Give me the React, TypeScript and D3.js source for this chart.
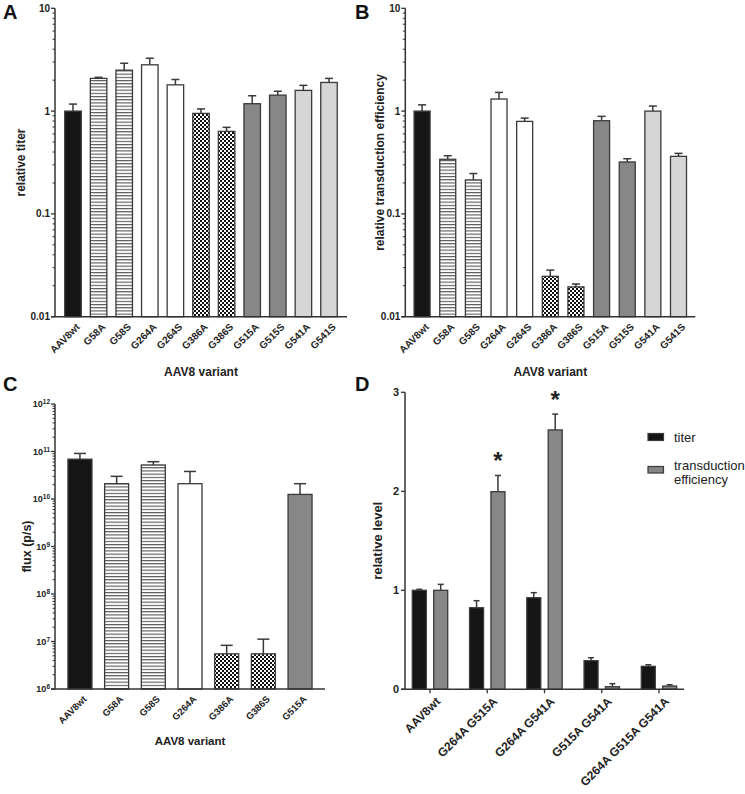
import React from "react";
import * as d3 from "d3";

// ---------- DATA ----------
const variantsAB = ["AAV8wt","G58A","G58S","G264A","G264S","G386A","G386S","G515A","G515S","G541A","G541S"];
const titerValues = [1.0, 2.08, 2.5, 2.82, 1.8, 0.95, 0.635, 1.18, 1.43, 1.59, 1.9];
const titerErrTop = [1.17, 2.13, 2.92, 3.27, 2.03, 1.05, 0.695, 1.41, 1.56, 1.78, 2.08];
const transValues = [1.0, 0.34, 0.214, 1.31, 0.794, 0.0247, 0.0195, 0.806, 0.32, 1.0, 0.363];
const transErrTop = [1.15, 0.368, 0.247, 1.52, 0.855, 0.0284, 0.0208, 0.889, 0.344, 1.12, 0.388];
const fillsAB = ["black","stripe","stripe","white","white","check","check","gray","gray","light","light"];

const variantsC = ["AAV8wt","G58A","G58S","G264A","G386A","G386S","G515A"];
const fluxValues = [6.9e10, 2.1e10, 5.2e10, 2.1e10, 5.5e6, 5.5e6, 1.25e10];
const fluxErrTop = [9.1e10, 3.0e10, 6.1e10, 3.8e10, 8.3e6, 1.12e7, 2.1e10];
const fillsC = ["black","stripe","stripe","white","check","check","gray"];

const groupsD = ["AAV8wt","G264A G515A","G264A G541A","G515A G541A","G264A G515A G541A"];
const seriesD = ["titer","transduction efficiency"];
const dTiter = [1.0, 0.824, 0.925, 0.289, 0.232];
const dTiterErr = [1.01, 0.895, 0.976, 0.319, 0.248];
const dTrans = [1.0, 1.996, 2.62, 0.026, 0.033];
const dTransErr = [1.06, 2.16, 2.78, 0.057, 0.046];
const starGroups = ["G264A G515A","G264A G541A"];

const logTicksAB = [0.01, 0.1, 1, 10];
const logTickLabelsAB = ["0.01","0.1","1","10"];
const expTicksC = [6,7,8,9,10,11,12];
const linTicksD = [0,1,2,3];

// ---------- STYLE ----------
const FONT = "'Liberation Sans', Arial, sans-serif";
const AX = "#333";
const STROKE = "#3a3a3a";
const fillMap: Record<string,string> = {
  black: "#151515",
  stripe: "url(#stripe)",
  white: "#ffffff",
  check: "url(#check)",
  gray: "#878787",
  light: "#d6d6d6",
};

function minorLogTicks(lo: number, hi: number) {
  const out: number[] = [];
  for (let e = Math.round(Math.log10(lo)); e < Math.round(Math.log10(hi)); e++) {
    for (let k = 2; k <= 9; k++) out.push(k * Math.pow(10, e));
  }
  return out;
}

type LogPanelProps = {
  cats: string[]; vals: number[]; errs: number[]; fills: string[];
  x0: number; x1: number; pad: number; barW: number; capW: number;
  y: d3.ScaleLogarithmic<number, number>;
  majors: number[]; majorLabel: (v: number, i: number) => React.ReactNode;
  ylabel: string; ylabelX: number; ylabelFont: number; xlabelY: number; xlabelFont: number;
  tickFont: number; catFont: number;
};

function LogPanel(p: LogPanelProps) {
  const x = d3.scalePoint<string>().domain(p.cats).range([p.x0, p.x1]).padding(p.pad);
  const [d0, d1] = p.y.domain();
  const yBot = p.y(d0), yTop = p.y(d1);
  return (
    <g>
      {p.cats.map((c, i) => {
        const cx = x(c)!;
        const yt = p.y(p.vals[i]);
        const ye = p.y(p.errs[i]);
        return (
          <g key={c}>
            <line x1={cx} x2={cx} y1={yt} y2={ye} stroke={STROKE} strokeWidth={1.5} />
            <line x1={cx - p.capW / 2} x2={cx + p.capW / 2} y1={ye} y2={ye} stroke={STROKE} strokeWidth={1.5} />
            <rect x={cx - p.barW / 2} y={yt} width={p.barW} height={yBot - yt}
              fill={fillMap[p.fills[i]]} stroke={STROKE} strokeWidth={1.3} />
          </g>
        );
      })}
      {/* axes */}
      <line x1={p.x0} x2={p.x0} y1={yTop} y2={yBot} stroke={AX} strokeWidth={1.5} />
      <line x1={p.x0 - 4} x2={p.x1} y1={yBot} y2={yBot} stroke={AX} strokeWidth={1.5} />
      {minorLogTicks(d0, d1).map((v) => (
        <line key={"m" + v} x1={p.x0 - 2.5} x2={p.x0} y1={p.y(v)} y2={p.y(v)} stroke={AX} strokeWidth={1} />
      ))}
      {p.majors.map((v, i) => (
        <g key={"M" + v}>
          <line x1={p.x0 - 4} x2={p.x0} y1={p.y(v)} y2={p.y(v)} stroke={AX} strokeWidth={1.3} />
          <text x={p.x0 - 5} y={p.y(v)} dy="0.35em" textAnchor="end" fontSize={p.tickFont}
            fontWeight="bold" fontFamily={FONT} fill="#222">{p.majorLabel(v, i)}</text>
        </g>
      ))}
      {p.cats.map((c) => {
        const cx = x(c)! + 2.5;
        const cy = yBot + 6;
        return (
          <text key={"l" + c} transform={`translate(${cx},${cy}) rotate(-45)`} textAnchor="end"
            dy="0.7em" fontSize={p.catFont} fontWeight="bold" fontFamily={FONT} fill="#222">{c}</text>
        );
      })}
      <text transform={`translate(${p.ylabelX},${(yTop + yBot) / 2}) rotate(-90)`} textAnchor="middle"
        fontSize={p.ylabelFont} fontWeight="bold" fontFamily={FONT} fill="#222">{p.ylabel}</text>
      <text x={(p.x0 + p.x1) / 2} y={p.xlabelY} textAnchor="middle" fontSize={p.xlabelFont} fontWeight="bold"
        fontFamily={FONT} fill="#222">AAV8 variant</text>
    </g>
  );
}

function PanelD() {
  const x0 = 405, x1 = 684;
  const y = d3.scaleLinear().domain([0, 3]).range([689.3, 392.3]);
  const x = d3.scalePoint<string>().domain(groupsD).range([x0, x1]).padding(0.437);
  const sub = d3.scalePoint<string>().domain(seriesD).range([-10.7, 10.7]);
  const barW = 14, capW = 6;
  const yBot = y(0);
  const series = [
    { name: seriesD[0], vals: dTiter, errs: dTiterErr, fill: "#151515" },
    { name: seriesD[1], vals: dTrans, errs: dTransErr, fill: "#878787" },
  ];
  return (
    <g>
      {series.map((s) =>
        groupsD.map((g, i) => {
          const cx = x(g)! + sub(s.name)!;
          const yt = y(s.vals[i]);
          const ye = y(s.errs[i]);
          return (
            <g key={s.name + g}>
              <line x1={cx} x2={cx} y1={yt} y2={ye} stroke={STROKE} strokeWidth={1.5} />
              <line x1={cx - capW / 2} x2={cx + capW / 2} y1={ye} y2={ye} stroke={STROKE} strokeWidth={1.5} />
              <rect x={cx - barW / 2} y={yt} width={barW} height={yBot - yt} fill={s.fill}
                stroke={STROKE} strokeWidth={1.3} />
            </g>
          );
        })
      )}
      {starGroups.map((g) => {
        const i = groupsD.indexOf(g);
        const cx = x(g)! + sub(seriesD[1])!;
        return (
          <text key={"s" + g} x={cx} y={y(dTransErr[i]) - 6} textAnchor="middle" fontSize={24}
            fontWeight="bold" fontFamily={FONT} fill="#222">*</text>
        );
      })}
      <line x1={x0} x2={x0} y1={y(3)} y2={yBot} stroke={AX} strokeWidth={1.5} />
      <line x1={x0 - 4} x2={x1} y1={yBot} y2={yBot} stroke={AX} strokeWidth={1.5} />
      {linTicksD.map((v) => (
        <g key={"t" + v}>
          <line x1={x0 - 4} x2={x0} y1={y(v)} y2={y(v)} stroke={AX} strokeWidth={1.3} />
          <text x={x0 - 6} y={y(v)} dy="0.35em" textAnchor="end" fontSize={11} fontWeight="bold"
            fontFamily={FONT} fill="#222">{v}</text>
        </g>
      ))}
      {groupsD.map((g) => (
        <g key={"g" + g}>
          <line x1={x(g)} x2={x(g)} y1={yBot} y2={yBot + 4} stroke={AX} strokeWidth={1.3} />
          <text transform={`translate(${x(g)! + 5},${yBot + 7}) rotate(-45)`} textAnchor="end" dy="0.7em"
            fontSize={12} fontWeight="bold" fontFamily={FONT} fill="#222">{g}</text>
        </g>
      ))}
      <text transform={`translate(382,${(y(3) + yBot) / 2}) rotate(-90)`} textAnchor="middle" fontSize={13}
        fontWeight="bold" fontFamily={FONT} fill="#222">relative level</text>
      {/* legend */}
      <rect x={648} y={433.5} width={15.5} height={7} fill="#151515" stroke={STROKE} strokeWidth={1.2} />
      <text x={674} y={441.5} fontSize={13} fontFamily={FONT} fill="#222">{seriesD[0]}</text>
      <rect x={648} y={466.5} width={15.5} height={6.5} fill="#878787" stroke={STROKE} strokeWidth={1.2} />
      <text x={674} y={469.5} fontSize={13} fontFamily={FONT} fill="#222">transduction</text>
      <text x={674} y={483.5} fontSize={13} fontFamily={FONT} fill="#222">efficiency</text>
    </g>
  );
}

export default function App() {
  const yAB = d3.scaleLog().domain([0.01, 10]).range([316.7, 8.3]);
  const yC = d3.scaleLog().domain([1e6, 1e12]).range([689, 404]);
  const panelLetter = (t: string, x: number, y: number) => (
    <text x={x} y={y} fontSize={20} fontWeight="bold" fontFamily={FONT} fill="#111">{t}</text>
  );
  return (
    <svg width={745} height={794} style={{ position: "absolute", left: 0, top: 0, background: "#fff" }}>
      <defs>
        <pattern id="stripe" width={4} height={3.2} patternUnits="userSpaceOnUse">
          <rect width={4} height={3.2} fill="#fff" />
          <rect y={0} width={4} height={1.1} fill="#555" />
        </pattern>
        <pattern id="check" width={4} height={4} patternUnits="userSpaceOnUse">
          <rect width={4} height={4} fill="#fff" />
          <rect x={0} y={0} width={2} height={2} fill="#111" />
          <rect x={2} y={2} width={2} height={2} fill="#111" />
        </pattern>
      </defs>
      <rect width={745} height={794} fill="#fff" />
      {panelLetter("A", 3, 18.5)}
      {panelLetter("B", 355, 18.5)}
      {panelLetter("C", 3, 391)}
      {panelLetter("D", 355, 391)}
      <LogPanel cats={variantsAB} vals={titerValues} errs={titerErrTop} fills={fillsAB}
        x0={55} x1={347} pad={0.703} barW={16.5} capW={8} y={yAB}
        majors={logTicksAB} majorLabel={(_v, i) => logTickLabelsAB[i]}
        ylabel="relative titer" ylabelX={25} ylabelFont={12} xlabelY={376} xlabelFont={12}
        tickFont={10} catFont={10} />
      <LogPanel cats={variantsAB} vals={transValues} errs={transErrTop} fills={fillsAB}
        x0={405.3} x1={695.3} pad={0.655} barW={16} capW={8} y={yAB}
        majors={logTicksAB} majorLabel={(_v, i) => logTickLabelsAB[i]}
        ylabel="relative transduction efficiency" ylabelX={384} ylabelFont={12} xlabelY={376} xlabelFont={12}
        tickFont={10} catFont={10} />
      <LogPanel cats={variantsC} vals={fluxValues} errs={fluxErrTop} fills={fillsC}
        x0={55} x1={325} pad={0.68} barW={24} capW={12} y={yC}
        majors={expTicksC.map((e) => Math.pow(10, e))}
        majorLabel={(_v, i) => (
          <>
            <tspan>10</tspan>
            <tspan dy="-0.45em" fontSize={6.5}>{expTicksC[i]}</tspan>
          </>
        )}
        ylabel="flux (p/s)" ylabelX={31} ylabelFont={12.5} xlabelY={745} xlabelFont={11.5}
        tickFont={9} catFont={9.5} />
      <PanelD />
    </svg>
  );
}
